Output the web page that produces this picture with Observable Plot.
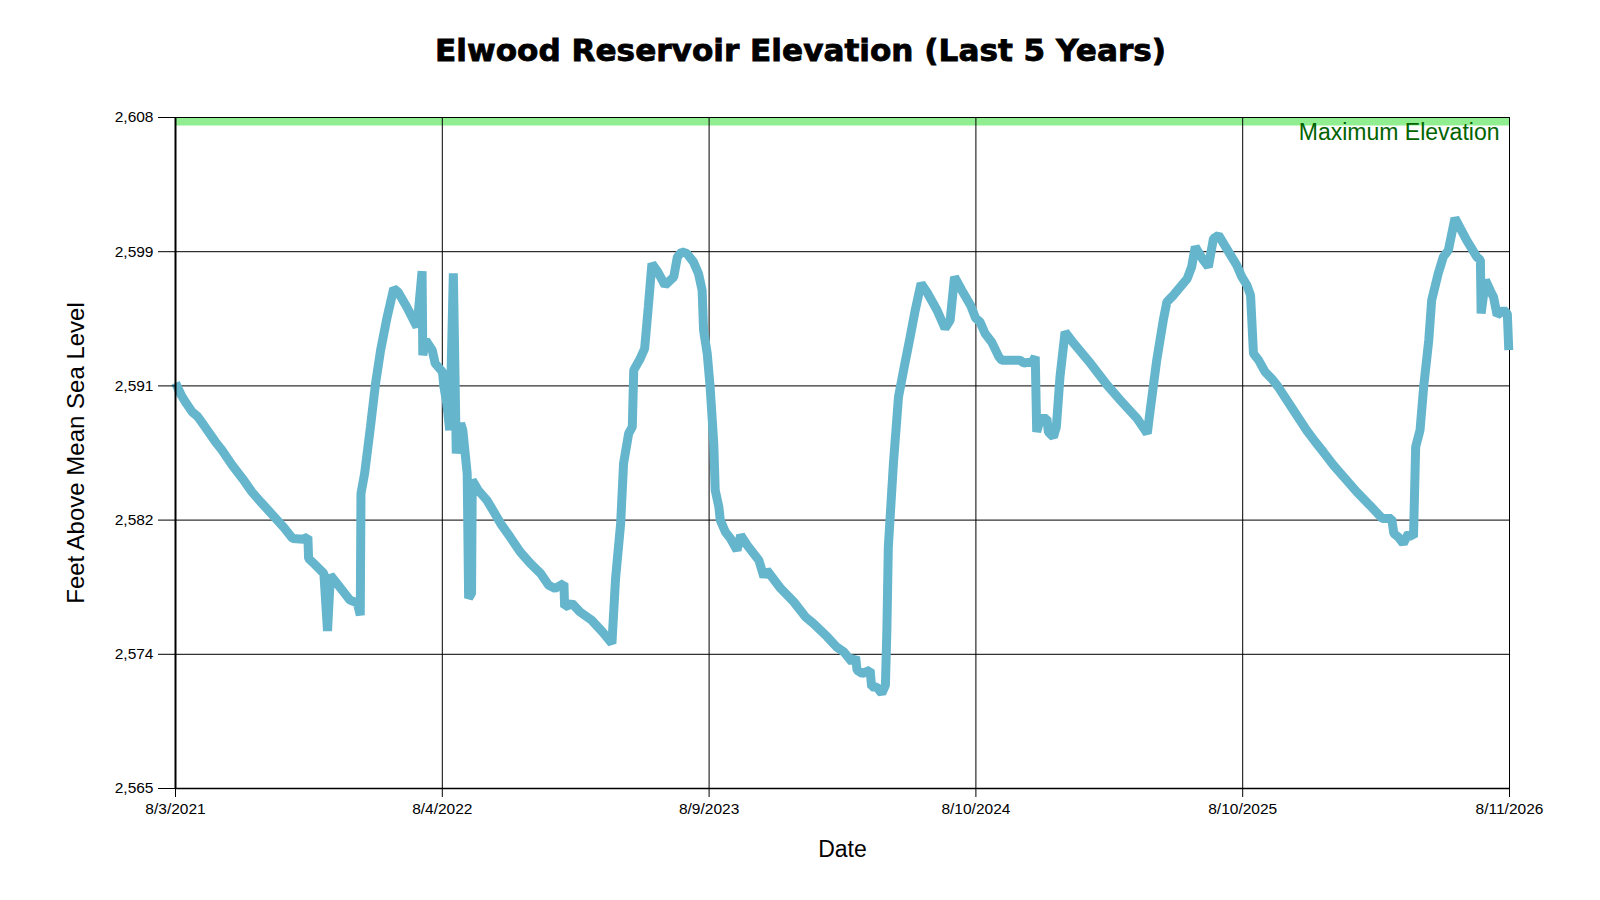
<!DOCTYPE html>
<html>
<head>
<meta charset="utf-8">
<script src="https://cdn.jsdelivr.net/npm/d3@7"></script>
<script src="https://cdn.jsdelivr.net/npm/@observablehq/plot@0.6"></script>
<style>
  html, body { margin: 0; padding: 0; background: #ffffff; }
</style>
</head>
<body>
<div id="chart"></div>
<script>
const chartTitle = "Elwood Reservoir Elevation (Last 5 Years)";
const xLabel = "Date";
const yLabel = "Feet Above Mean Sea Level";
const maxLabel = "Maximum Elevation";
const maxElevation = 2608;
const yDomain = [2565, 2608];
const xDomainDates = ["2021-08-03", "2026-08-11"];
const xTickLabels = ["8/3/2021", "8/4/2022", "8/9/2023", "8/10/2024", "8/10/2025", "8/11/2026"];
const yTickLabels = ["2,565", "2,574", "2,582", "2,591", "2,599", "2,608"];

const dates = [
  "2021-08-03","2021-08-11","2021-08-18","2021-08-26","2021-09-02","2021-09-11","2021-09-27","2021-10-06","2021-10-20","2021-11-03",
  "2021-11-16","2021-11-28","2021-12-16","2021-12-30","2022-01-11","2022-01-26","2022-02-01","2022-02-02","2022-02-07","2022-02-23",
  "2022-02-28","2022-03-04","2022-03-13","2022-03-31","2022-04-10","2022-04-14","2022-04-15","2022-04-20","2022-04-28","2022-05-05",
  "2022-05-12","2022-05-21","2022-05-30","2022-06-05","2022-06-17","2022-07-01","2022-07-08","2022-07-09","2022-07-13","2022-07-22",
  "2022-07-26","2022-08-05","2022-08-07","2022-08-11","2022-08-15","2022-08-20","2022-08-24","2022-08-30","2022-09-02","2022-09-08",
  "2022-09-10","2022-09-14","2022-09-15","2022-09-23","2022-10-05","2022-10-12","2022-10-24","2022-11-06","2022-11-20","2022-12-04",
  "2022-12-18","2022-12-29","2023-01-07","2023-01-19","2023-01-20","2023-01-26","2023-01-30","2023-02-10","2023-02-26","2023-03-13",
  "2023-03-26","2023-03-31","2023-04-07","2023-04-11","2023-04-18","2023-04-23","2023-04-25","2023-05-04","2023-05-10","2023-05-15",
  "2023-05-20","2023-05-28","2023-06-07","2023-06-19","2023-06-24","2023-06-30","2023-07-07","2023-07-16","2023-07-23","2023-07-28",
  "2023-07-30","2023-08-04","2023-08-08","2023-08-13","2023-08-15","2023-08-20","2023-08-22","2023-08-29","2023-09-05","2023-09-14",
  "2023-09-19","2023-09-28","2023-10-14","2023-10-21","2023-10-25","2023-11-13","2023-12-01","2023-12-17","2023-12-28","2024-01-16",
  "2024-01-29","2024-02-08","2024-02-19","2024-02-24","2024-02-26","2024-03-04","2024-03-15","2024-03-17","2024-03-24","2024-03-31",
  "2024-04-05","2024-04-07","2024-04-09","2024-04-16","2024-04-23","2024-04-30","2024-05-09","2024-05-16","2024-05-24","2024-06-01",
  "2024-06-15","2024-06-26","2024-07-03","2024-07-09","2024-07-19","2024-07-31","2024-08-07","2024-08-13","2024-08-20","2024-08-29",
  "2024-09-08","2024-09-12","2024-10-07","2024-10-12","2024-10-24","2024-10-28","2024-10-30","2024-11-04","2024-11-13","2024-11-15",
  "2024-11-22","2024-11-26","2024-12-01","2024-12-08","2024-12-20","2025-01-12","2025-02-04","2025-02-22","2025-03-17","2025-03-31",
  "2025-04-04","2025-04-13","2025-04-22","2025-04-27","2025-05-06","2025-05-25","2025-05-31","2025-06-05","2025-06-16","2025-06-23",
  "2025-06-30","2025-07-07","2025-07-14","2025-07-25","2025-08-01","2025-08-08","2025-08-15","2025-08-20","2025-08-24","2025-08-31",
  "2025-09-09","2025-09-18","2025-09-27","2025-10-09","2025-10-27","2025-11-05","2025-11-17","2025-11-28","2025-12-12","2025-12-26",
  "2026-01-13","2026-01-31","2026-02-17","2026-03-02","2026-03-05","2026-03-11","2026-03-18","2026-03-25","2026-04-01","2026-04-02",
  "2026-04-04","2026-04-10","2026-04-15","2026-04-22","2026-04-26","2026-05-05","2026-05-12","2026-05-19","2026-05-28","2026-06-13",
  "2026-06-27","2026-07-02","2026-07-03","2026-07-09","2026-07-16","2026-07-20","2026-07-25","2026-08-03","2026-08-08","2026-08-10"
];

const elevations = [
  2591.00,2590.20,2589.67,2589.13,2588.86,2588.28,2587.21,2586.68,2585.72,2584.87,
  2584.01,2583.37,2582.45,2581.73,2581.02,2580.98,2581.12,2579.74,2579.52,2578.78,
  2575.10,2578.67,2578.14,2577.07,2576.89,2576.11,2583.90,2585.19,2588.17,2590.95,
  2593.09,2595.22,2597.04,2596.82,2595.86,2594.58,2598.15,2592.77,2593.73,2593.09,
  2592.24,2591.70,2590.74,2589.67,2587.96,2598.02,2586.47,2588.39,2587.96,2585.19,
  2577.20,2577.50,2584.76,2584.12,2583.48,2582.94,2581.98,2581.12,2580.16,2579.42,
  2578.78,2578.03,2577.82,2578.14,2576.64,2576.75,2576.86,2576.32,2575.79,2575.04,
  2574.29,2578.46,2581.98,2585.83,2587.75,2588.17,2591.81,2592.56,2593.20,2595.86,
  2598.64,2598.11,2597.25,2597.78,2599.07,2599.39,2599.28,2598.75,2598.00,2596.93,
  2594.37,2592.88,2590.74,2587.11,2584.12,2583.05,2582.19,2581.44,2581.02,2580.27,
  2581.23,2580.59,2579.63,2578.56,2578.99,2577.82,2576.96,2576.00,2575.57,2574.72,
  2574.07,2573.75,2573.11,2573.43,2572.58,2572.37,2572.58,2571.51,2571.51,2571.09,
  2571.62,2575.14,2580.48,2585.83,2590.10,2591.81,2593.94,2595.65,2597.36,2596.82,
  2595.65,2594.48,2595.01,2597.78,2596.93,2595.97,2595.14,2594.90,2594.16,2593.62,
  2592.66,2592.45,2592.45,2592.27,2592.34,2592.66,2587.85,2588.71,2588.71,2587.85,
  2587.53,2588.17,2591.38,2594.26,2593.52,2592.24,2590.84,2589.88,2588.71,2587.75,
  2589.24,2592.45,2595.01,2596.18,2596.61,2597.68,2598.43,2599.71,2598.86,2598.43,
  2600.25,2600.46,2599.92,2599.07,2598.53,2597.78,2597.25,2596.61,2592.88,2592.45,
  2591.70,2591.27,2590.74,2589.88,2588.60,2587.96,2587.21,2586.57,2585.72,2584.97,
  2584.01,2583.15,2582.30,2582.30,2581.34,2581.12,2580.70,2581.34,2581.12,2583.05,
  2586.89,2587.96,2590.74,2593.73,2596.29,2598.00,2599.07,2599.50,2601.55,2600.14,
  2599.07,2598.86,2595.44,2597.57,2596.87,2596.50,2595.33,2595.65,2595.44,2593.09
];

const data = dates.map((d, i) => ({date: new Date(d), elevation: elevations[i]}));
const xDomain = xDomainDates.map(d => new Date(d));
const nTicks = xTickLabels.length;
const xTicks = d3.range(nTicks).map(i => new Date(+xDomain[0] + i * (xDomain[1] - xDomain[0]) / (nTicks - 1)));
const yTicks = d3.range(yTickLabels.length).map(i => yDomain[0] + i * (yDomain[1] - yDomain[0]) / (yTickLabels.length - 1));
const xLabelMap = new Map(xTicks.map((t, i) => [+t, xTickLabels[i]]));
const yLabelMap = new Map(yTicks.map((t, i) => [t, yTickLabels[i]]));

const chart = Plot.plot({
  width: 1600,
  height: 900,
  marginTop: 117,
  marginRight: 91,
  marginBottom: 112,
  marginLeft: 175,
  style: {
    fontFamily: "'Liberation Sans', Arial, sans-serif",
    fontSize: "15.5px",
    color: "black",
    background: "white",
    overflow: "visible"
  },
  x: {type: "utc", domain: xDomain},
  y: {domain: yDomain},
  marks: [
    Plot.ruleY([maxElevation], {stroke: "#90ee90", strokeWidth: 8, dy: 4}),
    Plot.gridY(yTicks, {stroke: "black", strokeOpacity: 1, strokeWidth: 1}),
    Plot.gridX(xTicks, {stroke: "black", strokeOpacity: 1, strokeWidth: 1}),
    Plot.line(data, {x: "date", y: "elevation", stroke: "#65b5cd", strokeWidth: 9, strokeLinejoin: "miter", strokeLinecap: "butt"}),
    Plot.ruleX([xDomain[0]], {stroke: "black", strokeWidth: 2}),
    Plot.ruleY([yDomain[0]], {stroke: "black", strokeWidth: 1.5}),
    Plot.axisY(yTicks, {tickSize: 17, tickPadding: 5, tickFormat: d => yLabelMap.get(d), label: null}),
    Plot.axisX(xTicks, {tickSize: 9, tickPadding: 5, tickFormat: d => xLabelMap.get(+d), label: null}),
    Plot.text([maxLabel], {text: d => d, frameAnchor: "top-right", textAnchor: "end", lineAnchor: "middle", dx: -10, dy: 15, fill: "#006400", fontSize: 23}),
    Plot.text([yLabel], {text: d => d, frameAnchor: "left", textAnchor: "middle", lineAnchor: "middle", dx: -99, rotate: -90, fontSize: 24}),
    Plot.text([xLabel], {text: d => d, frameAnchor: "bottom", textAnchor: "middle", lineAnchor: "middle", dy: 61, fontSize: 23}),
    Plot.text([chartTitle], {text: d => d, frameAnchor: "top", textAnchor: "middle", lineAnchor: "middle", dx: -42, dy: -66, fontSize: 30, fontWeight: "bold", fontFamily: "'DejaVu Sans', sans-serif"})
  ]
});

document.getElementById("chart").appendChild(chart);

d3.select(chart).selectAll("text")
  .filter(function () { return this.textContent === chartTitle; })
  .attr("textLength", 731)
  .attr("lengthAdjust", "spacingAndGlyphs")
  .attr("stroke", "black")
  .attr("stroke-width", 0.8);
</script>
</body>
</html>
